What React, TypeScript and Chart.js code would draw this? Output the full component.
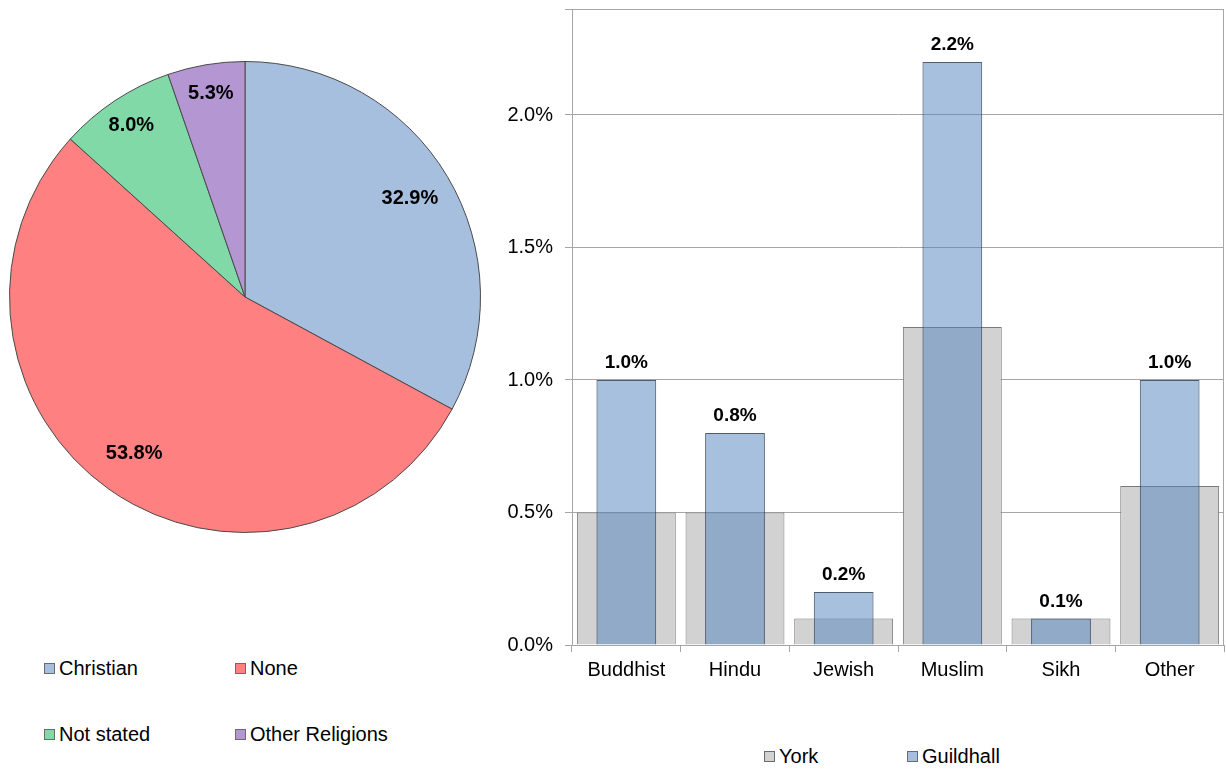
import React, { useEffect, useRef } from "react";
import { Chart, registerables } from "chart.js";

Chart.register(...registerables);

const pieLabels = ["Christian", "None", "Not stated", "Other Religions"];
const pieValues = [32.9, 53.8, 8.0, 5.3];
const pieColors = ["#A7BFDE", "#FF8080", "#80D9A7", "#B396D2"];

const barCategories = ["Buddhist", "Hindu", "Jewish", "Muslim", "Sikh", "Other"];
const yorkValues = [0.5, 0.5, 0.1, 1.2, 0.1, 0.6];
const guildhallValues = [1.0, 0.8, 0.2, 2.2, 0.1, 1.0];
const barSeriesNames = ["York", "Guildhall"];
const barColors = ["#D2D2D2", "rgba(79,129,189,0.5)"];
const barBorders = ["#7A7A7A", "rgba(35,50,75,0.8)"];

const FONT = '"Liberation Sans", Arial, sans-serif';

const piePctPlugin = {
  id: "piePct",
  afterDatasetsDraw(chart: any) {
    const ctx = chart.ctx;
    const meta = chart.getDatasetMeta(0);
    ctx.save();
    ctx.font = `bold 20px ${FONT}`;
    ctx.fillStyle = "#000";
    ctx.textAlign = "center";
    ctx.textBaseline = "middle";
    meta.data.forEach((arc: any, i: number) => {
      const p = arc.getProps(["x", "y", "startAngle", "endAngle", "outerRadius"], true);
      const mid = (p.startAngle + p.endAngle) / 2;
      const v = pieValues[i];
      const f = v < 10 ? 0.875 : 0.815;
      const r = p.outerRadius * f;
      ctx.fillText(v.toFixed(1) + "%", p.x + Math.cos(mid) * r, p.y + Math.sin(mid) * r);
    });
    ctx.restore();
  },
};

const barLabelPlugin = {
  id: "barLabels",
  beforeDatasetsDraw(chart: any) {
    const { ctx, chartArea } = chart;
    ctx.save();
    ctx.strokeStyle = "#A6A6A6";
    ctx.lineWidth = 1;
    ctx.strokeRect(
      Math.round(chartArea.left) + 0.5,
      Math.round(chartArea.top) + 0.5,
      Math.round(chartArea.right - chartArea.left) - 1,
      Math.round(chartArea.bottom - chartArea.top)
    );
    ctx.restore();
  },
  afterDatasetsDraw(chart: any) {
    const ctx = chart.ctx;
    const meta = chart.getDatasetMeta(1);
    ctx.save();
    ctx.font = `bold 19px ${FONT}`;
    ctx.fillStyle = "#000";
    ctx.textAlign = "center";
    ctx.textBaseline = "alphabetic";
    meta.data.forEach((bar: any, i: number) => {
      const p = bar.getProps(["x", "y"], true);
      ctx.fillText(guildhallValues[i].toFixed(1) + "%", p.x, p.y - 12);
    });
    ctx.restore();
  },
};

function LegendItem(props: { x: number; y: number; color: string; text: string }) {
  return (
    <>
      <div
        style={{
          position: "absolute",
          left: props.x,
          top: props.y,
          width: 9,
          height: 9,
          background: props.color,
          border: "1px solid #6B6B6B",
        }}
      />
      <div
        style={{
          position: "absolute",
          left: props.x + 15,
          top: props.y - 5,
          font: `20px ${FONT}`,
          lineHeight: "20px",
          color: "#000",
          whiteSpace: "nowrap",
        }}
      >
        {props.text}
      </div>
    </>
  );
}

export default function App() {
  const pieRef = useRef<HTMLCanvasElement>(null);
  const barRef = useRef<HTMLCanvasElement>(null);

  useEffect(() => {
    Chart.defaults.font.family = FONT;
    const pie = new Chart(pieRef.current!, {
      type: "pie",
      data: {
        labels: pieLabels,
        datasets: [
          {
            data: pieValues,
            backgroundColor: pieColors,
            borderColor: "#4A4A4A",
            borderWidth: 1,
          },
        ],
      },
      options: {
        responsive: false,
        maintainAspectRatio: false,
        animation: false,
        layout: { padding: 0 },
        plugins: { legend: { display: false }, tooltip: { enabled: false } },
      },
      plugins: [piePctPlugin],
    });

    const bar = new Chart(barRef.current!, {
      type: "bar",
      data: {
        labels: barCategories,
        datasets: [
          {
            label: barSeriesNames[0],
            data: yorkValues,
            backgroundColor: barColors[0],
            borderColor: barBorders[0],
            borderWidth: 1,
            barPercentage: 0.91,
            categoryPercentage: 1,
            order: 2,
            grouped: false,
          } as any,
          {
            label: barSeriesNames[1],
            data: guildhallValues,
            backgroundColor: barColors[1],
            borderColor: barBorders[1],
            borderWidth: 1,
            barPercentage: 0.55,
            categoryPercentage: 1,
            order: 1,
            grouped: false,
          } as any,
        ],
      },
      options: {
        responsive: false,
        maintainAspectRatio: false,
        animation: false,
        layout: { padding: { top: 9, right: 2, left: 0, bottom: 0 } },
        plugins: { legend: { display: false }, tooltip: { enabled: false } },
        scales: {
          x: {
            grid: {
              display: true,
              drawOnChartArea: false,
              drawTicks: true,
              tickLength: 7,
              color: "#A6A6A6",
            },
            border: { display: true, color: "#A6A6A6" },
            ticks: { color: "#000", font: { size: 20, family: FONT }, padding: 6, maxRotation: 0 },
            afterFit: (s: any) => {
              s.height = 55;
              s.paddingLeft = 0;
              s.paddingRight = 0;
            },
          },
          y: {
            min: 0,
            max: 2.4,
            ticks: {
              stepSize: 0.5,
              color: "#000",
              font: { size: 20, family: FONT },
              padding: 12,
              callback: (v: any) => {
                const n = Number(v);
                return Math.abs(n * 2 - Math.round(n * 2)) < 1e-6 ? n.toFixed(1) + "%" : "";
              },
            },
            grid: { color: "#A6A6A6", tickLength: 7 },
            border: { display: true, color: "#A6A6A6" },
            afterFit: (s: any) => {
              s.width = 82;
              s.paddingTop = 0;
              s.paddingBottom = 0;
            },
          },
        },
      },
      plugins: [barLabelPlugin],
    });

    return () => {
      pie.destroy();
      bar.destroy();
    };
  }, []);

  return (
    <div
      style={{
        position: "absolute",
        left: 0,
        top: 0,
        width: 1226,
        height: 769,
        background: "#fff",
        overflow: "hidden",
      }}
    >
      <canvas
        ref={pieRef}
        width={472}
        height={472}
        style={{ position: "absolute", left: 9, top: 61, width: 472, height: 472 }}
      />
      <LegendItem x={44} y={663} color={pieColors[0]} text={pieLabels[0]} />
      <LegendItem x={235} y={663} color={pieColors[1]} text={pieLabels[1]} />
      <LegendItem x={44} y={729} color={pieColors[2]} text={pieLabels[2]} />
      <LegendItem x={235} y={729} color={pieColors[3]} text={pieLabels[3]} />
      <canvas
        ref={barRef}
        width={736}
        height={700}
        style={{ position: "absolute", left: 490, top: 0, width: 736, height: 700 }}
      />
      <LegendItem x={764} y={751} color={barColors[0]} text={barSeriesNames[0]} />
      <LegendItem x={907} y={751} color={"#A7BFDE"} text={barSeriesNames[1]} />
    </div>
  );
}
